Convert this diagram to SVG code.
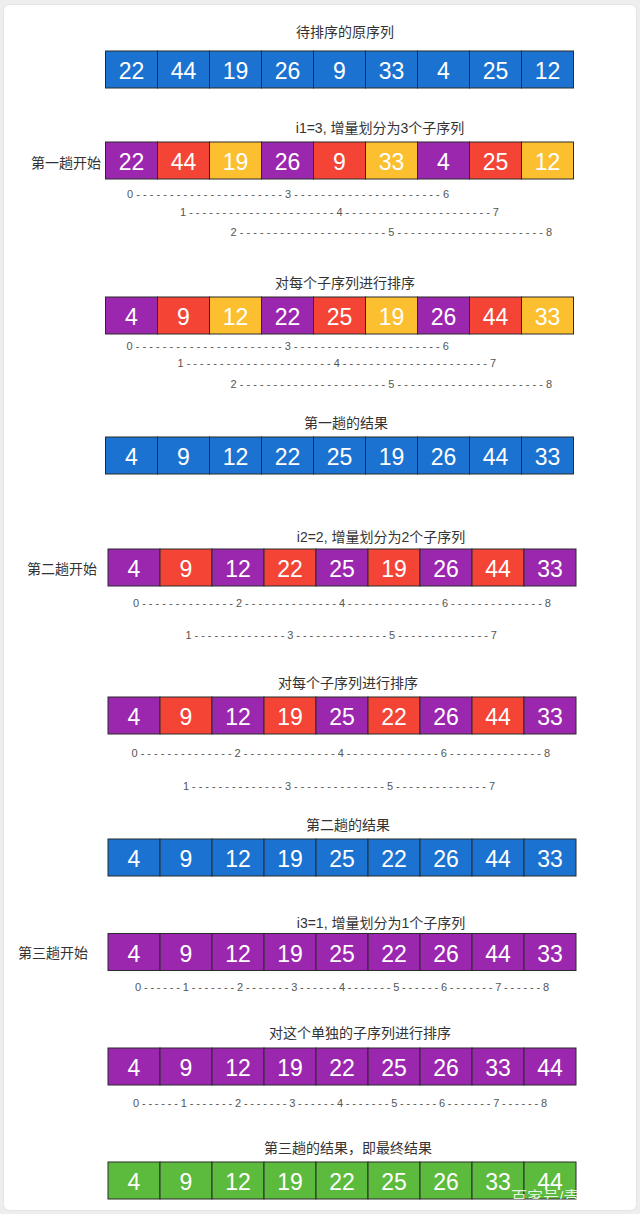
<svg xmlns="http://www.w3.org/2000/svg" width="640" height="1214" viewBox="0 0 640 1214">
<style>
.c{stroke:#2a2a2a;stroke-width:1}
.b{fill:#1b72d1}.p{fill:#9b27af}.r{fill:#f34436}.y{fill:#fbbf2f}.g{fill:#5cba3c}
.n{font-family:"Liberation Sans",Arial,sans-serif;font-size:23px;fill:#ffffff;text-anchor:middle}
.t{font-family:"Liberation Sans","Noto Sans CJK SC",sans-serif;font-size:14px;fill:#333333;text-anchor:middle}
.l{font-family:"Liberation Sans","Noto Sans CJK SC",sans-serif;font-size:14px;fill:#333333}
.i{font-family:"Liberation Sans",Arial,sans-serif;font-size:11px;fill:#555555}
.w{font-family:"Liberation Sans","Noto Sans CJK SC",sans-serif;font-size:16px;fill:#ffffff;fill-opacity:0.85}
</style>
<defs>
<clipPath id="wmclip"><rect x="0" y="0" width="580" height="1199"/></clipPath>
</defs>
<rect x="0" y="0" width="640" height="1214" fill="#eeeeee"/>
<rect x="3.5" y="4.5" width="633" height="1206" rx="6" fill="#ffffff" stroke="#e4e4e4"/>

<g id="titles">
<text class="t" x="345" y="37">待排序的原序列</text>
<text class="t" x="380" y="133">i1=3, 增量划分为3个子序列</text>
<text class="t" x="345" y="288">对每个子序列进行排序</text>
<text class="t" x="346" y="428">第一趟的结果</text>
<text class="t" x="381" y="542">i2=2, 增量划分为2个子序列</text>
<text class="t" x="348" y="688">对每个子序列进行排序</text>
<text class="t" x="348" y="830">第二趟的结果</text>
<text class="t" x="381" y="928">i3=1, 增量划分为1个子序列</text>
<text class="t" x="360" y="1038">对这个单独的子序列进行排序</text>
<text class="t" x="348" y="1153">第三趟的结果，即最终结果</text>
<text class="l" x="31" y="168">第一趟开始</text>
<text class="l" x="27" y="574">第二趟开始</text>
<text class="l" x="18" y="958">第三趟开始</text>
</g>

<g id="row1" transform="translate(105.5,51)">
<rect class="c b" x="0" y="0" width="52" height="37"/><rect class="c b" x="52" y="0" width="52" height="37"/><rect class="c b" x="104" y="0" width="52" height="37"/><rect class="c b" x="156" y="0" width="52" height="37"/><rect class="c b" x="208" y="0" width="52" height="37"/><rect class="c b" x="260" y="0" width="52" height="37"/><rect class="c b" x="312" y="0" width="52" height="37"/><rect class="c b" x="364" y="0" width="52" height="37"/><rect class="c b" x="416" y="0" width="52" height="37"/>
<text class="n" x="26" y="28">22</text><text class="n" x="78" y="28">44</text><text class="n" x="130" y="28">19</text><text class="n" x="182" y="28">26</text><text class="n" x="234" y="28">9</text><text class="n" x="286" y="28">33</text><text class="n" x="338" y="28">4</text><text class="n" x="390" y="28">25</text><text class="n" x="442" y="28">12</text>
</g>

<g id="row2" transform="translate(105.5,142)">
<rect class="c p" x="0" y="0" width="52" height="37"/><rect class="c r" x="52" y="0" width="52" height="37"/><rect class="c y" x="104" y="0" width="52" height="37"/><rect class="c p" x="156" y="0" width="52" height="37"/><rect class="c r" x="208" y="0" width="52" height="37"/><rect class="c y" x="260" y="0" width="52" height="37"/><rect class="c p" x="312" y="0" width="52" height="37"/><rect class="c r" x="364" y="0" width="52" height="37"/><rect class="c y" x="416" y="0" width="52" height="37"/>
<text class="n" x="26" y="28">22</text><text class="n" x="78" y="28">44</text><text class="n" x="130" y="28">19</text><text class="n" x="182" y="28">26</text><text class="n" x="234" y="28">9</text><text class="n" x="286" y="28">33</text><text class="n" x="338" y="28">4</text><text class="n" x="390" y="28">25</text><text class="n" x="442" y="28">12</text>
</g>

<g id="index1">
<text class="i" x="127" y="198" textLength="322" lengthAdjust="spacing">0----------------------3----------------------6</text>
<text class="i" x="180" y="216" textLength="319" lengthAdjust="spacing">1----------------------4----------------------7</text>
<text class="i" x="230.5" y="236" textLength="321.5" lengthAdjust="spacing">2----------------------5----------------------8</text>
</g>

<g id="row3" transform="translate(105.5,297)">
<rect class="c p" x="0" y="0" width="52" height="37"/><rect class="c r" x="52" y="0" width="52" height="37"/><rect class="c y" x="104" y="0" width="52" height="37"/><rect class="c p" x="156" y="0" width="52" height="37"/><rect class="c r" x="208" y="0" width="52" height="37"/><rect class="c y" x="260" y="0" width="52" height="37"/><rect class="c p" x="312" y="0" width="52" height="37"/><rect class="c r" x="364" y="0" width="52" height="37"/><rect class="c y" x="416" y="0" width="52" height="37"/>
<text class="n" x="26" y="28">4</text><text class="n" x="78" y="28">9</text><text class="n" x="130" y="28">12</text><text class="n" x="182" y="28">22</text><text class="n" x="234" y="28">25</text><text class="n" x="286" y="28">19</text><text class="n" x="338" y="28">26</text><text class="n" x="390" y="28">44</text><text class="n" x="442" y="28">33</text>
</g>

<g id="index2">
<text class="i" x="126.5" y="350" textLength="322.5" lengthAdjust="spacing">0----------------------3----------------------6</text>
<text class="i" x="177.5" y="367" textLength="318.5" lengthAdjust="spacing">1----------------------4----------------------7</text>
<text class="i" x="230.5" y="388" textLength="321.5" lengthAdjust="spacing">2----------------------5----------------------8</text>
</g>

<g id="row4" transform="translate(105.5,437)">
<rect class="c b" x="0" y="0" width="52" height="37"/><rect class="c b" x="52" y="0" width="52" height="37"/><rect class="c b" x="104" y="0" width="52" height="37"/><rect class="c b" x="156" y="0" width="52" height="37"/><rect class="c b" x="208" y="0" width="52" height="37"/><rect class="c b" x="260" y="0" width="52" height="37"/><rect class="c b" x="312" y="0" width="52" height="37"/><rect class="c b" x="364" y="0" width="52" height="37"/><rect class="c b" x="416" y="0" width="52" height="37"/>
<text class="n" x="26" y="28">4</text><text class="n" x="78" y="28">9</text><text class="n" x="130" y="28">12</text><text class="n" x="182" y="28">22</text><text class="n" x="234" y="28">25</text><text class="n" x="286" y="28">19</text><text class="n" x="338" y="28">26</text><text class="n" x="390" y="28">44</text><text class="n" x="442" y="28">33</text>
</g>

<g id="row5" transform="translate(108,549)">
<rect class="c p" x="0" y="0" width="52" height="37"/><rect class="c r" x="52" y="0" width="52" height="37"/><rect class="c p" x="104" y="0" width="52" height="37"/><rect class="c r" x="156" y="0" width="52" height="37"/><rect class="c p" x="208" y="0" width="52" height="37"/><rect class="c r" x="260" y="0" width="52" height="37"/><rect class="c p" x="312" y="0" width="52" height="37"/><rect class="c r" x="364" y="0" width="52" height="37"/><rect class="c p" x="416" y="0" width="52" height="37"/>
<text class="n" x="26" y="28">4</text><text class="n" x="78" y="28">9</text><text class="n" x="130" y="28">12</text><text class="n" x="182" y="28">22</text><text class="n" x="234" y="28">25</text><text class="n" x="286" y="28">19</text><text class="n" x="338" y="28">26</text><text class="n" x="390" y="28">44</text><text class="n" x="442" y="28">33</text>
</g>

<g id="index3">
<text class="i" x="133" y="607" textLength="418" lengthAdjust="spacing">0--------------2--------------4--------------6--------------8</text>
<text class="i" x="185.5" y="639" textLength="311.5" lengthAdjust="spacing">1--------------3--------------5--------------7</text>
</g>

<g id="row6" transform="translate(108,697)">
<rect class="c p" x="0" y="0" width="52" height="37"/><rect class="c r" x="52" y="0" width="52" height="37"/><rect class="c p" x="104" y="0" width="52" height="37"/><rect class="c r" x="156" y="0" width="52" height="37"/><rect class="c p" x="208" y="0" width="52" height="37"/><rect class="c r" x="260" y="0" width="52" height="37"/><rect class="c p" x="312" y="0" width="52" height="37"/><rect class="c r" x="364" y="0" width="52" height="37"/><rect class="c p" x="416" y="0" width="52" height="37"/>
<text class="n" x="26" y="28">4</text><text class="n" x="78" y="28">9</text><text class="n" x="130" y="28">12</text><text class="n" x="182" y="28">19</text><text class="n" x="234" y="28">25</text><text class="n" x="286" y="28">22</text><text class="n" x="338" y="28">26</text><text class="n" x="390" y="28">44</text><text class="n" x="442" y="28">33</text>
</g>

<g id="index4">
<text class="i" x="131.5" y="757" textLength="418.5" lengthAdjust="spacing">0--------------2--------------4--------------6--------------8</text>
<text class="i" x="183" y="790" textLength="312" lengthAdjust="spacing">1--------------3--------------5--------------7</text>
</g>

<g id="row7" transform="translate(108,839)">
<rect class="c b" x="0" y="0" width="52" height="37"/><rect class="c b" x="52" y="0" width="52" height="37"/><rect class="c b" x="104" y="0" width="52" height="37"/><rect class="c b" x="156" y="0" width="52" height="37"/><rect class="c b" x="208" y="0" width="52" height="37"/><rect class="c b" x="260" y="0" width="52" height="37"/><rect class="c b" x="312" y="0" width="52" height="37"/><rect class="c b" x="364" y="0" width="52" height="37"/><rect class="c b" x="416" y="0" width="52" height="37"/>
<text class="n" x="26" y="28">4</text><text class="n" x="78" y="28">9</text><text class="n" x="130" y="28">12</text><text class="n" x="182" y="28">19</text><text class="n" x="234" y="28">25</text><text class="n" x="286" y="28">22</text><text class="n" x="338" y="28">26</text><text class="n" x="390" y="28">44</text><text class="n" x="442" y="28">33</text>
</g>

<g id="row8" transform="translate(108,933.5)">
<rect class="c p" x="0" y="0" width="52" height="37"/><rect class="c p" x="52" y="0" width="52" height="37"/><rect class="c p" x="104" y="0" width="52" height="37"/><rect class="c p" x="156" y="0" width="52" height="37"/><rect class="c p" x="208" y="0" width="52" height="37"/><rect class="c p" x="260" y="0" width="52" height="37"/><rect class="c p" x="312" y="0" width="52" height="37"/><rect class="c p" x="364" y="0" width="52" height="37"/><rect class="c p" x="416" y="0" width="52" height="37"/>
<text class="n" x="26" y="28">4</text><text class="n" x="78" y="28">9</text><text class="n" x="130" y="28">12</text><text class="n" x="182" y="28">19</text><text class="n" x="234" y="28">25</text><text class="n" x="286" y="28">22</text><text class="n" x="338" y="28">26</text><text class="n" x="390" y="28">44</text><text class="n" x="442" y="28">33</text>
</g>

<g id="index5">
<text class="i" x="135" y="991" textLength="414" lengthAdjust="spacing">0------1-------2-------3------4-------5------6-------7------8</text>
</g>

<g id="row9" transform="translate(108,1048)">
<rect class="c p" x="0" y="0" width="52" height="37"/><rect class="c p" x="52" y="0" width="52" height="37"/><rect class="c p" x="104" y="0" width="52" height="37"/><rect class="c p" x="156" y="0" width="52" height="37"/><rect class="c p" x="208" y="0" width="52" height="37"/><rect class="c p" x="260" y="0" width="52" height="37"/><rect class="c p" x="312" y="0" width="52" height="37"/><rect class="c p" x="364" y="0" width="52" height="37"/><rect class="c p" x="416" y="0" width="52" height="37"/>
<text class="n" x="26" y="28">4</text><text class="n" x="78" y="28">9</text><text class="n" x="130" y="28">12</text><text class="n" x="182" y="28">19</text><text class="n" x="234" y="28">22</text><text class="n" x="286" y="28">25</text><text class="n" x="338" y="28">26</text><text class="n" x="390" y="28">33</text><text class="n" x="442" y="28">44</text>
</g>

<g id="index6">
<text class="i" x="133" y="1107" textLength="414" lengthAdjust="spacing">0------1-------2-------3------4-------5------6-------7------8</text>
</g>

<g id="row10" transform="translate(108,1162)">
<rect class="c g" x="0" y="0" width="52" height="37"/><rect class="c g" x="52" y="0" width="52" height="37"/><rect class="c g" x="104" y="0" width="52" height="37"/><rect class="c g" x="156" y="0" width="52" height="37"/><rect class="c g" x="208" y="0" width="52" height="37"/><rect class="c g" x="260" y="0" width="52" height="37"/><rect class="c g" x="312" y="0" width="52" height="37"/><rect class="c g" x="364" y="0" width="52" height="37"/><rect class="c g" x="416" y="0" width="52" height="37"/>
<text class="n" x="26" y="28">4</text><text class="n" x="78" y="28">9</text><text class="n" x="130" y="28">12</text><text class="n" x="182" y="28">19</text><text class="n" x="234" y="28">22</text><text class="n" x="286" y="28">25</text><text class="n" x="338" y="28">26</text><text class="n" x="390" y="28">33</text><text class="n" x="442" y="28">44</text>
</g>

<g id="watermark" clip-path="url(#wmclip)">
<text class="w" x="511" y="1203">百家号/青</text>
</g>
</svg>
